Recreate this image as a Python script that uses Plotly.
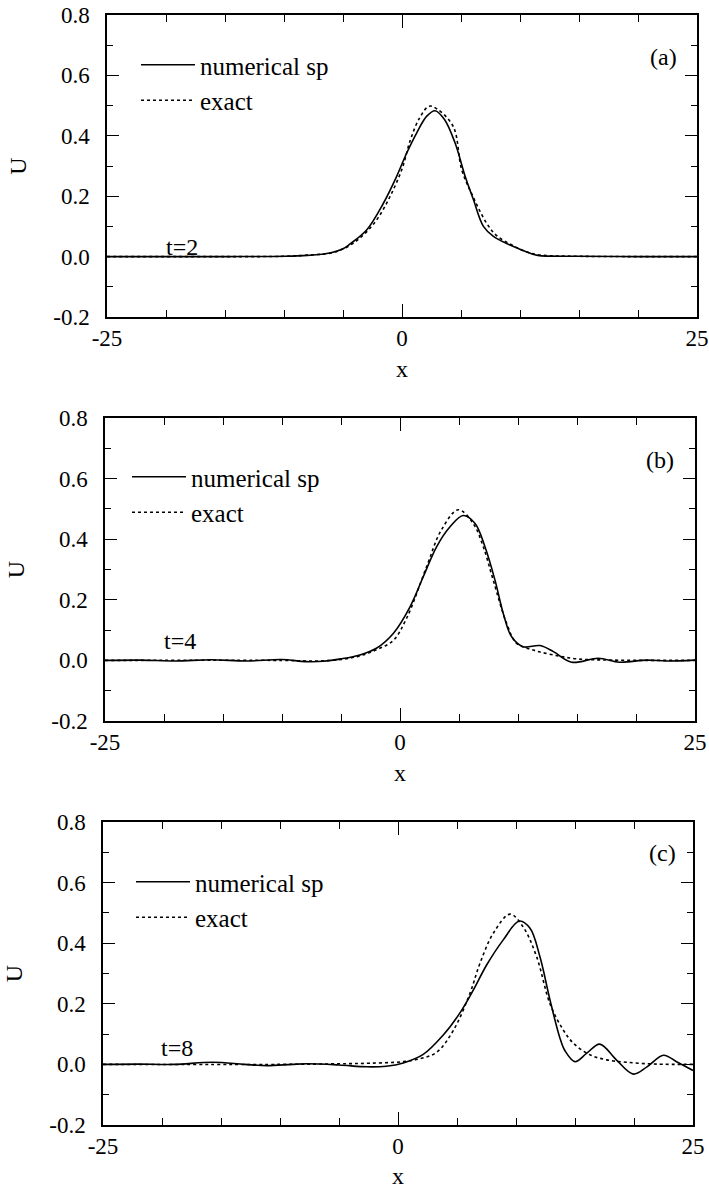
import plotly.graph_objects as go

# ---------------- data ----------------
# panel (a) t=2
xa_num = [-25, -15, -10, -8, -6.1, -5, -4.4, -3, -1.6, -0.45, 0.4, 1.25, 2.1, 2.8, 3.6, 4.5, 5.35, 6.05, 6.9, 7.75, 9.4, 10.8, 11.5, 15, 20, 25]
ua_num = [0, 0, 0.001, 0.004, 0.012, 0.026, 0.042, 0.088, 0.175, 0.266, 0.343, 0.41, 0.465, 0.483, 0.454, 0.376, 0.266, 0.189, 0.10, 0.067, 0.034, 0.012, 0.004, 0.001, 0, 0]
xa_ex = [-25, -15, -10, -8, -6, -5, -4, -3, -2, -1, 0, 0.7, 1.5, 2.3, 3, 4.35, 5.06, 6, 7.18, 8, 9, 10, 11, 12, 15, 25]
ua_ex = [0, 0, 0.001, 0.005, 0.012, 0.025, 0.048, 0.082, 0.13, 0.2, 0.29, 0.385, 0.46, 0.498, 0.488, 0.43, 0.288, 0.2, 0.11, 0.07, 0.045, 0.025, 0.01, 0.004, 0.001, 0]

# panel (b) t=4
xb_num = [-25, -22, -19, -16, -13, -10, -8, -6.5, -5, -3.4, -2, -0.57, 0.85, 1.97, 3.1, 4.24, 5.36, 6.36, 7.2, 8.05, 8.75, 9.46, 10.45, 11.86, 13.0, 14.55, 16.8, 18.6, 20.9, 22.6, 25]
ub_num = [0, 0.001, -0.002, 0.002, -0.002, 0.003, -0.004, -0.003, 0.005, 0.018, 0.04, 0.089, 0.177, 0.276, 0.375, 0.441, 0.478, 0.452, 0.375, 0.265, 0.155, 0.078, 0.045, 0.049, 0.029, -0.006, 0.007, -0.006, 0.001, -0.002, 0.001]
xb_ex = [-25, -10, -7, -5, -3.4, -2, -0.57, 0.57, 2.26, 3.5, 4.94, 6.2, 7.06, 7.9, 9.04, 9.89, 11.3, 13, 15, 18, 25]
ub_ex = [0, 0, -0.002, 0.003, 0.015, 0.035, 0.066, 0.14, 0.31, 0.43, 0.497, 0.452, 0.375, 0.265, 0.122, 0.056, 0.034, 0.018, 0.005, 0.001, 0]

# panel (c) t=8
xc_num = [-25, -22, -19, -15.7, -13, -11.1, -9, -7.7, -5, -2.6, -1, 0.45, 2.14, 3.84, 5.25, 6.38, 7.51, 8.92, 10.28, 11.19, 12.03, 12.88, 13.7, 14.15, 15.0, 16.0, 17.1, 18.5, 19.94, 21.1, 22.5, 23.6, 25]
uc_num = [0, 0.001, 0.0, 0.007, 0.0, -0.004, 0.0, 0.002, -0.002, -0.008, -0.006, 0.005, 0.033, 0.097, 0.17, 0.245, 0.328, 0.411, 0.473, 0.449, 0.355, 0.213, 0.09, 0.045, 0.009, 0.037, 0.067, 0.015, -0.032, -0.008, 0.03, 0.009, -0.02]
xc_ex = [-25, -10, -5, -2.37, 0.45, 2, 3.28, 4.69, 6.1, 6.95, 8.08, 9.49, 10.6, 11.75, 12.88, 14.0, 14.86, 16.3, 17.7, 19.35, 21.9, 25]
uc_ex = [0, 0, 0.002, 0.004, 0.009, 0.02, 0.04, 0.112, 0.235, 0.334, 0.433, 0.496, 0.454, 0.355, 0.2, 0.114, 0.07, 0.031, 0.015, 0.007, 0.001, 0]

panels = [
    dict(xn=xa_num, un=ua_num, xe=xa_ex, ue=ua_ex, tag="(a)", t="t=2"),
    dict(xn=xb_num, un=ub_num, xe=xb_ex, ue=ub_ex, tag="(b)", t="t=4"),
    dict(xn=xc_num, un=uc_num, xe=xc_ex, ue=uc_ex, tag="(c)", t="t=8"),
]
series_names = ["numerical sp", "exact"]
x_ticks = [-25, 0, 25]
x_ticktext = ["-25", "0", "25"]
y_ticks = [-0.2, 0.0, 0.2, 0.4, 0.6, 0.8]
y_ticktext = ["-0.2", "0.0", "0.2", "0.4", "0.6", "0.8"]

# ---------------- layout geometry (pixels) ----------------
W, H = 709, 1189
boxes = [  # left, right, top, bottom
    (107, 697, 15, 317),
    (105, 695, 418, 721),
    (103, 693, 822, 1125),
]
tag_pos = [(663, 57), (660, 460), (662, 853)]
t_pos = [(182, 247), (180, 641), (177, 1048)]
legend_pos = [(136, 42), (127, 454), (131, 859)]
FONT = "Liberation Serif, Times New Roman, serif"

fig = go.Figure()
layout = dict(width=W, height=H, margin=dict(l=0, r=0, t=0, b=0, autoexpand=False),
              paper_bgcolor="white", plot_bgcolor="white",
              font=dict(family=FONT, size=23, color="black"),
              annotations=[])

for i, (p, (L, R, T, B)) in enumerate(zip(panels, boxes)):
    k = "" if i == 0 else str(i + 1)
    lg = "legend" + k
    fig.add_trace(go.Scatter(x=p["xn"], y=p["un"], mode="lines", name=series_names[0],
                             line=dict(color="black", width=1.6, shape="spline", smoothing=1.0),
                             xaxis="x" + k, yaxis="y" + k, legend=lg))
    fig.add_trace(go.Scatter(x=p["xe"], y=p["ue"], mode="lines", name=series_names[1],
                             line=dict(color="black", width=1.6, dash="3px,3px", shape="spline", smoothing=1.0),
                             xaxis="x" + k, yaxis="y" + k, legend=lg))
    xd = [L / W, R / W]
    yd = [1 - B / H, 1 - T / H]
    common = dict(showline=True, linecolor="black", linewidth=1.5, mirror="ticks",
                  ticks="inside", tickcolor="black", tickwidth=1.3, automargin=False,
                  showgrid=False, zeroline=False, tickfont=dict(family=FONT, size=23, color="black"))
    layout["xaxis" + k] = dict(domain=xd, anchor="y" + k, range=[-25, 25],
                               tickvals=x_ticks, ticktext=x_ticktext, ticklen=13,
                               minor=dict(dtick=5, tick0=0, ticklen=7, ticks="inside", tickcolor="black", tickwidth=1.3, showgrid=False),
                               title=dict(text="x", font=dict(family=FONT, size=24), standoff=10),
                               ticklabelstandoff=0, **common)
    layout["yaxis" + k] = dict(domain=yd, anchor="x" + k, range=[-0.2, 0.8],
                               tickvals=y_ticks, ticktext=y_ticktext, ticklen=12,
                               minor=dict(dtick=0.1, tick0=0, ticklen=6, ticks="inside", tickcolor="black", tickwidth=1.3, showgrid=False),
                               title=dict(text="U", font=dict(family=FONT, size=24), standoff=20),
                               ticklabelstandoff=11, **common)
    lx, ly = legend_pos[i]
    layout[lg] = dict(x=lx / W, y=1 - ly / H, xanchor="left", yanchor="top",
                      bgcolor="rgba(0,0,0,0)", borderwidth=0, itemwidth=54,
                      font=dict(family=FONT, size=25, color="black"), tracegroupgap=0)
    tx, ty = tag_pos[i]
    layout["annotations"].append(dict(text=p["tag"], x=tx / W, y=1 - ty / H,
                                      xref="paper", yref="paper", xanchor="center", yanchor="middle",
                                      showarrow=False, font=dict(family=FONT, size=24)))
    sx, sy = t_pos[i]
    layout["annotations"].append(dict(text=p["t"], x=sx / W, y=1 - sy / H,
                                      xref="paper", yref="paper", xanchor="center", yanchor="middle",
                                      showarrow=False, font=dict(family=FONT, size=24)))

fig.update_layout(**layout)
fig.write_html("out.html")
